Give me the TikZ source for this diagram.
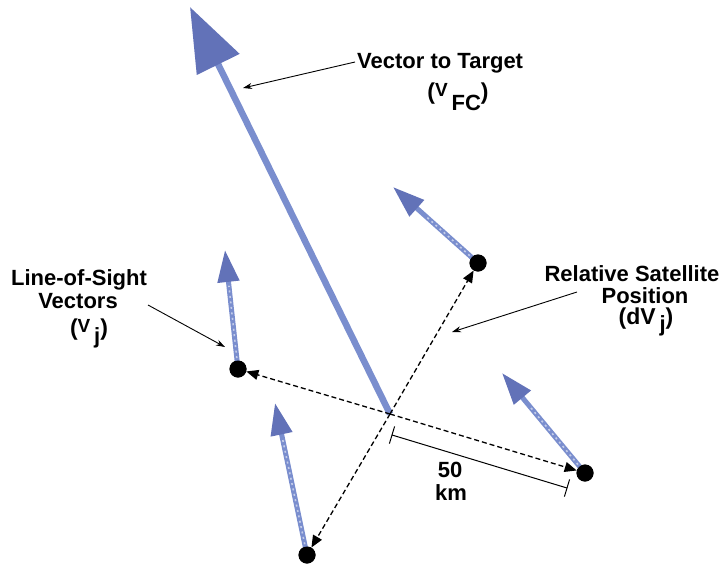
\documentclass[tikz,border=0pt]{standalone}
\usepackage{fontspec}
\setmainfont{Liberation Sans}
\usetikzlibrary{arrows.meta,calc}
\definecolor{vecblue}{RGB}{122,142,206}
\definecolor{headblue}{RGB}{98,114,184}
\newcommand{\parenfont}{\fontsize{23}{25}\selectfont}
\newcommand{\smallV}{\raisebox{3pt}{\fontsize{19}{21}\selectfont V}}
\newcommand{\subfont}{\fontsize{22}{24}\selectfont}
\begin{document}
\begin{tikzpicture}[x=1pt,y=-1pt,
  sat/.style={circle,fill=black,inner sep=0pt,minimum size=17pt},
  bigvec/.style={line width=6.5pt,draw=vecblue,-{Triangle[length=64pt,width=46pt,color=headblue]}},
  smallvec/.style={line width=5pt,draw=vecblue,-{Triangle[length=32pt,width=21pt,color=headblue]}},
  texture/.style={line width=1.6pt,draw=vecblue!45!white,dash pattern=on 2pt off 3.5pt},
  relpos/.style={line width=1.3pt,dash pattern=on 5pt off 3pt,-{Triangle[length=12pt,width=10pt]}},
  leader/.style={line width=0.9pt,-{Stealth[length=9pt,width=6pt]}},
  lbl/.style={font=\bfseries\fontsize{22}{24}\selectfont,inner sep=0pt},
  sublbl/.style={font=\bfseries\parenfont,inner sep=0pt},
  dimline/.style={line width=1pt},
]
\useasboundingbox (0,0) rectangle (725,565);

% centre and satellites
\coordinate (c) at (390,414);
\node[sat] (s1) at (478,263) {};
\node[sat] (s2) at (238,369) {};
\node[sat] (s3) at (585,473) {};
\node[sat] (s4) at (307,555) {};

% tips of line-of-sight vectors
\coordinate (tfc) at (190,7);
\coordinate (t1) at (393,187);
\coordinate (t2) at (225,250);
\coordinate (t3) at (502,373);
\coordinate (t4) at (275,403);

% vectors
\draw[bigvec] (c) -- (tfc);
\draw[smallvec] (s1.center) -- (t1);
\draw[smallvec] (s2.center) -- (t2);
\draw[smallvec] (s3.center) -- (t3);
\draw[smallvec] (s4.center) -- (t4);
\draw[texture] (s1.center) -- ($(s1.center)!0.62!(t1)$);
\draw[texture] (s2.center) -- ($(s2.center)!0.70!(t2)$);
\draw[texture] (s3.center) -- ($(s3.center)!0.66!(t3)$);
\draw[texture] (s4.center) -- ($(s4.center)!0.76!(t4)$);

% relative positions
\draw[relpos] (c) -- (s1);
\draw[relpos] (c) -- (s2);
\draw[relpos] (c) -- (s3);
\draw[relpos] (c) -- (s4);

% redraw satellites on top
\node[sat] at (s1) {};
\node[sat] at (s2) {};
\node[sat] at (s3) {};
\node[sat] at (s4) {};

% dimension line
\coordinate (d1) at (392,435);
\coordinate (d2) at (567,488);
\draw[dimline] (d1) -- (d2);
\draw[dimline] ($(d1)+(2.6,-8.6)$) -- ($(d1)+(-2.6,8.6)$);
\draw[dimline] ($(d2)+(2.6,-8.6)$) -- ($(d2)+(-2.6,8.6)$);
\node[lbl,anchor=base] (n50) at (450,477) {50};
\node[lbl,anchor=base] (nkm) at (451,500) {km};

% labels
\node[lbl,anchor=base west] (vt) at (357,68) {Vector to Target};
\node[sublbl,anchor=base] (vfc) at (458,99) {(\smallV\,\raisebox{-11pt}{\subfont FC})};

\node[lbl,anchor=base] (los1) at (79,285) {Line-of-Sight};
\node[lbl,anchor=base] (los2) at (78,308) {Vectors};
\node[sublbl,anchor=base] (los3) at (89,335) {(\smallV\,\raisebox{-8pt}{\subfont j})};

\node[lbl,anchor=base] (rs1) at (632,281) {Relative Satellite};
\node[lbl,anchor=base] (rs2) at (645,303) {Position};
\node[sublbl,anchor=base] (rs3) at (646,324) {(dV\,\raisebox{-7pt}{\subfont j})};

% leaders
\coordinate (l1a) at (355,62);
\coordinate (l1b) at (243,88);
\coordinate (l2a) at (148,305);
\coordinate (l2b) at (225,347);
\coordinate (l3a) at (577,292);
\coordinate (l3b) at (452,332);
\draw[leader] (l1a) -- (l1b);
\draw[leader] (l2a) -- (l2b);
\draw[leader] (l3a) -- (l3b);
\end{tikzpicture}
\end{document}
